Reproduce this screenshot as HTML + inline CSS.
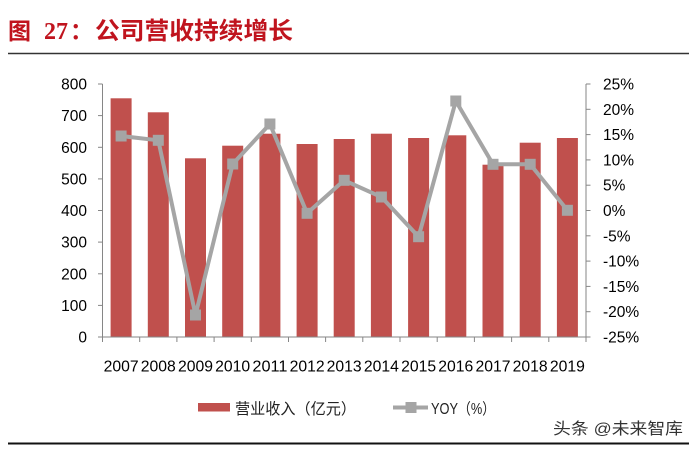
<!DOCTYPE html>
<html>
<head>
<meta charset="utf-8">
<style>
  html,body{margin:0;padding:0;background:#fff;}
  svg{display:block;}
  .ax{font-family:"Liberation Sans","DejaVu Sans",sans-serif;font-size:15.5px;fill:#000;}
  .cn{font-family:"Liberation Sans","Noto Sans CJK SC",sans-serif;}
</style>
</head>
<body>
<svg width="695" height="450" viewBox="0 0 695 450" xmlns="http://www.w3.org/2000/svg">
  <rect width="695" height="450" fill="#fff"/>
  <!-- Title -->
  <text x="8" y="39" class="cn" font-size="23" font-weight="bold" fill="#C0141E">图</text>
  <text x="44" y="39" font-family="Liberation Serif, serif" font-size="24" font-weight="bold" fill="#C0141E">27</text>
  <text x="70" y="39" class="cn" font-size="23" font-weight="bold" fill="#C0141E">：</text>
  <text x="95" y="39" class="cn" font-size="24" font-weight="bold" fill="#C0141E" textLength="198" lengthAdjust="spacingAndGlyphs">公司营收持续增长</text>
  <line x1="8" y1="53.5" x2="689" y2="53.5" stroke="#333" stroke-width="1.6"/>

  <!-- Bars -->
  <g fill="#C0504D">
    <rect x="110.6" y="98.3" width="21" height="238.7"/>
    <rect x="147.8" y="112.3" width="21" height="224.7"/>
    <rect x="185" y="158.3" width="21" height="178.7"/>
    <rect x="222.2" y="145.7" width="21" height="191.3"/>
    <rect x="259.4" y="133.7" width="21" height="203.3"/>
    <rect x="296.6" y="144" width="21" height="193"/>
    <rect x="333.7" y="139" width="21" height="198"/>
    <rect x="370.9" y="133.7" width="21" height="203.3"/>
    <rect x="408.1" y="138" width="21" height="199"/>
    <rect x="445.3" y="135.3" width="21" height="201.7"/>
    <rect x="482.5" y="164.7" width="21" height="172.3"/>
    <rect x="519.7" y="142.7" width="21" height="194.3"/>
    <rect x="556.9" y="138" width="21" height="199"/>
  </g>

  <!-- Axes -->
  <g stroke="#868686" stroke-width="1" fill="none">
    <line x1="102.5" y1="84" x2="102.5" y2="337"/>
    <line x1="586" y1="84" x2="586" y2="337"/>
    <line x1="102.5" y1="337" x2="586" y2="337"/>
    <!-- left ticks -->
    <line x1="98" y1="84" x2="102.5" y2="84"/>
    <line x1="98" y1="115.6" x2="102.5" y2="115.6"/>
    <line x1="98" y1="147.3" x2="102.5" y2="147.3"/>
    <line x1="98" y1="178.9" x2="102.5" y2="178.9"/>
    <line x1="98" y1="210.5" x2="102.5" y2="210.5"/>
    <line x1="98" y1="242.1" x2="102.5" y2="242.1"/>
    <line x1="98" y1="273.8" x2="102.5" y2="273.8"/>
    <line x1="98" y1="305.4" x2="102.5" y2="305.4"/>
    <line x1="98" y1="337" x2="102.5" y2="337"/>
    <!-- right ticks -->
    <line x1="586" y1="84" x2="590.5" y2="84"/>
    <line x1="586" y1="109.3" x2="590.5" y2="109.3"/>
    <line x1="586" y1="134.6" x2="590.5" y2="134.6"/>
    <line x1="586" y1="159.9" x2="590.5" y2="159.9"/>
    <line x1="586" y1="185.2" x2="590.5" y2="185.2"/>
    <line x1="586" y1="210.5" x2="590.5" y2="210.5"/>
    <line x1="586" y1="235.8" x2="590.5" y2="235.8"/>
    <line x1="586" y1="261.1" x2="590.5" y2="261.1"/>
    <line x1="586" y1="286.4" x2="590.5" y2="286.4"/>
    <line x1="586" y1="311.7" x2="590.5" y2="311.7"/>
    <line x1="586" y1="337" x2="590.5" y2="337"/>
    <!-- x ticks -->
    <line x1="102.5" y1="337" x2="102.5" y2="342"/>
    <line x1="139.7" y1="337" x2="139.7" y2="342"/>
    <line x1="176.9" y1="337" x2="176.9" y2="342"/>
    <line x1="214.1" y1="337" x2="214.1" y2="342"/>
    <line x1="251.3" y1="337" x2="251.3" y2="342"/>
    <line x1="288.5" y1="337" x2="288.5" y2="342"/>
    <line x1="325.6" y1="337" x2="325.6" y2="342"/>
    <line x1="362.8" y1="337" x2="362.8" y2="342"/>
    <line x1="400" y1="337" x2="400" y2="342"/>
    <line x1="437.2" y1="337" x2="437.2" y2="342"/>
    <line x1="474.4" y1="337" x2="474.4" y2="342"/>
    <line x1="511.6" y1="337" x2="511.6" y2="342"/>
    <line x1="548.8" y1="337" x2="548.8" y2="342"/>
    <line x1="586" y1="337" x2="586" y2="342"/>
  </g>

  <!-- Left labels -->
  <g class="ax" text-anchor="end">
    <text x="87" y="89.5">800</text>
    <text x="87" y="121.1">700</text>
    <text x="87" y="152.8">600</text>
    <text x="87" y="184.4">500</text>
    <text x="87" y="216">400</text>
    <text x="87" y="247.6">300</text>
    <text x="87" y="279.3">200</text>
    <text x="87" y="310.9">100</text>
    <text x="87" y="342.5">0</text>
  </g>
  <!-- Right labels -->
  <g class="ax" text-anchor="start">
    <text x="603" y="89.5">25%</text>
    <text x="603" y="114.8">20%</text>
    <text x="603" y="140.1">15%</text>
    <text x="603" y="165.4">10%</text>
    <text x="603" y="190.7">5%</text>
    <text x="603" y="216">0%</text>
    <text x="603" y="241.3">-5%</text>
    <text x="603" y="266.6">-10%</text>
    <text x="603" y="291.9">-15%</text>
    <text x="603" y="317.2">-20%</text>
    <text x="603" y="342.5">-25%</text>
  </g>
  <!-- X labels -->
  <g class="ax" text-anchor="middle">
    <text x="121.1" y="371.5" textLength="35" lengthAdjust="spacingAndGlyphs">2007</text>
    <text x="158.3" y="371.5" textLength="35" lengthAdjust="spacingAndGlyphs">2008</text>
    <text x="195.5" y="371.5" textLength="35" lengthAdjust="spacingAndGlyphs">2009</text>
    <text x="232.7" y="371.5" textLength="35" lengthAdjust="spacingAndGlyphs">2010</text>
    <text x="269.9" y="371.5" textLength="35" lengthAdjust="spacingAndGlyphs">2011</text>
    <text x="307.1" y="371.5" textLength="35" lengthAdjust="spacingAndGlyphs">2012</text>
    <text x="344.2" y="371.5" textLength="35" lengthAdjust="spacingAndGlyphs">2013</text>
    <text x="381.4" y="371.5" textLength="35" lengthAdjust="spacingAndGlyphs">2014</text>
    <text x="418.6" y="371.5" textLength="35" lengthAdjust="spacingAndGlyphs">2015</text>
    <text x="455.8" y="371.5" textLength="35" lengthAdjust="spacingAndGlyphs">2016</text>
    <text x="493" y="371.5" textLength="35" lengthAdjust="spacingAndGlyphs">2017</text>
    <text x="530.2" y="371.5" textLength="35" lengthAdjust="spacingAndGlyphs">2018</text>
    <text x="567.4" y="371.5" textLength="35" lengthAdjust="spacingAndGlyphs">2019</text>
  </g>

  <!-- YOY line -->
  <polyline fill="none" stroke="#A5A5A5" stroke-width="4" stroke-linejoin="round"
    points="121.1,136 158.3,140.3 195.5,315 232.7,164 269.9,124 307.1,213.3 344.2,180.3 381.4,197 418.6,236.7 455.8,101 493,164.3 530.2,164.3 567.4,210.3"/>
  <g fill="#A5A5A5">
    <rect x="115.6" y="130.5" width="11" height="11"/>
    <rect x="152.8" y="134.8" width="11" height="11"/>
    <rect x="190" y="309.5" width="11" height="11"/>
    <rect x="227.2" y="158.5" width="11" height="11"/>
    <rect x="264.4" y="118.5" width="11" height="11"/>
    <rect x="301.6" y="207.8" width="11" height="11"/>
    <rect x="338.7" y="174.8" width="11" height="11"/>
    <rect x="375.9" y="191.5" width="11" height="11"/>
    <rect x="413.1" y="231.2" width="11" height="11"/>
    <rect x="450.3" y="95.5" width="11" height="11"/>
    <rect x="487.5" y="158.8" width="11" height="11"/>
    <rect x="524.7" y="158.8" width="11" height="11"/>
    <rect x="561.9" y="204.8" width="11" height="11"/>
  </g>

  <!-- Legend -->
  <rect x="198" y="403" width="32" height="8.5" fill="#C0504D"/>
  <text x="235" y="414" class="cn" font-size="15.5" fill="#222" textLength="121" lengthAdjust="spacingAndGlyphs">营业收入（亿元）</text>
  <line x1="393" y1="407.5" x2="428" y2="407.5" stroke="#A5A5A5" stroke-width="4"/>
  <rect x="405.5" y="402" width="11" height="11" fill="#A5A5A5"/>
  <text x="431" y="414" class="cn" font-size="15.5" fill="#222" textLength="64" lengthAdjust="spacingAndGlyphs">YOY（%）</text>

  <!-- Watermark -->
  <text x="553" y="434" class="cn" font-size="16" fill="#333" textLength="130" lengthAdjust="spacingAndGlyphs">头条 @未来智库</text>

  <line x1="8" y1="443.5" x2="689" y2="443.5" stroke="#111" stroke-width="2"/>
</svg>
</body>
</html>
